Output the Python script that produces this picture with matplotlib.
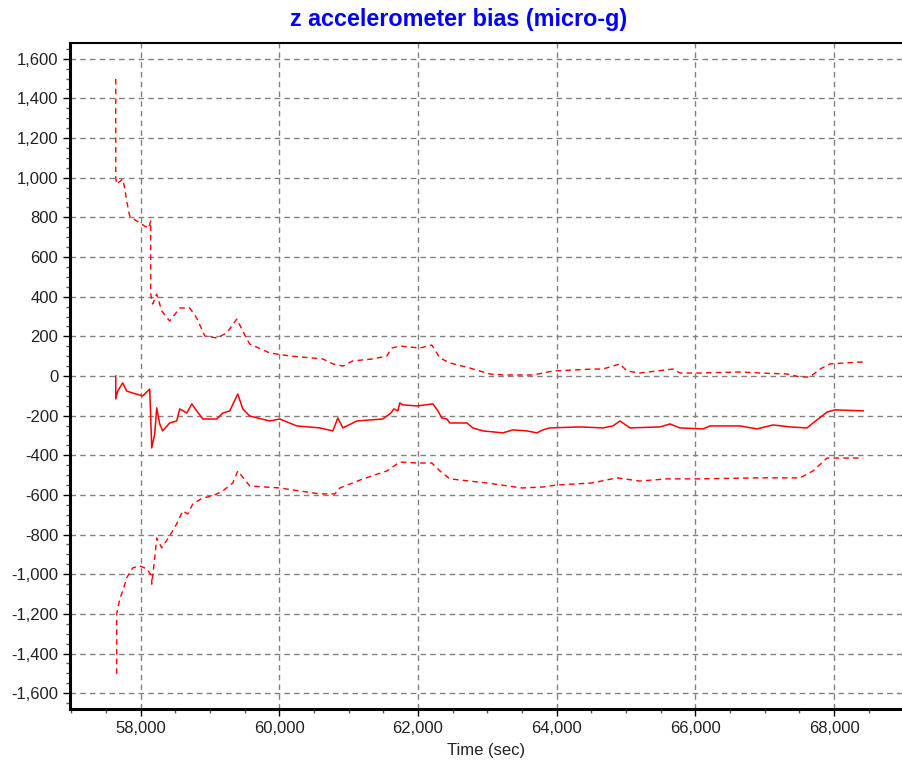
import matplotlib
matplotlib.use("Agg")
import matplotlib.pyplot as plt
from matplotlib.ticker import MultipleLocator, FuncFormatter

# bias estimate (solid)
t_bias = [57640, 57640, 57668, 57740, 57798, 57885, 58029, 58101, 58130, 58159,
          58202, 58231, 58274, 58317, 58418, 58519, 58563, 58664, 58736, 58808,
          58895, 59097, 59183, 59284, 59400, 59472, 59573, 59861, 60006, 60251,
          60583, 60771, 60843, 60915, 61117, 61492, 61608, 61651, 61708, 61737,
          61781, 61983, 62213, 62286, 62343, 62416, 62459, 62705, 62790, 62935,
          63224, 63368, 63570, 63714, 63800, 63901, 64334, 64667, 64811, 64912,
          65056, 65489, 65634, 65778, 66110, 66211, 66644, 66889, 67120, 67365,
          67610, 67697, 67899, 68014, 68419]
bias = [0, -116, -76, -35, -76, -86, -101, -76, -66, -363,
        -292, -161, -242, -277, -237, -227, -166, -187, -141, -176,
        -217, -217, -187, -176, -91, -166, -202, -227, -217, -252,
        -262, -277, -212, -262, -227, -217, -187, -166, -176, -136,
        -146, -151, -141, -176, -212, -217, -237, -237, -262, -277,
        -287, -272, -277, -287, -272, -262, -257, -262, -252, -227,
        -262, -257, -242, -262, -267, -252, -252, -267, -247, -257,
        -262, -237, -182, -171, -176]

# upper bound (dashed)
t_upper = [57640, 57640, 57654, 57740, 57769, 57798, 57841, 57942, 58058, 58115,
           58144, 58144, 58173, 58231, 58303, 58418, 58563, 58707, 58808, 58924,
           59097, 59241, 59385, 59472, 59530, 59573, 59861, 60150, 60626, 60771,
           60915, 61059, 61348, 61550, 61622, 61737, 62026, 62199, 62314, 62458,
           62747, 63036, 63224, 63657, 63801, 63945, 64522, 64667, 64912, 65013,
           65201, 65677, 65778, 66066, 66644, 66932, 67322, 67509, 67654, 67798,
           67942, 68419]
upper = [1498, 998, 968, 993, 948, 882, 807, 782, 756, 746,
         782, 413, 363, 413, 328, 277, 343, 343, 292, 202,
         192, 217, 287, 227, 187, 161, 116, 101, 86, 61,
         50, 76, 86, 101, 141, 151, 141, 156, 91, 66,
         40, 10, 5, 5, 15, 25, 35, 35, 61, 25,
         15, 35, 15, 15, 20, 15, 10, -5, -5, 35,
         61, 71]

# lower bound (dashed)
t_lower = [57654, 57654, 57697, 57740, 57798, 57885, 57986, 58087, 58159, 58159,
           58202, 58231, 58303, 58418, 58519, 58606, 58678, 58750, 58895, 59039,
           59183, 59327, 59400, 59573, 60006, 60583, 60799, 60872, 61200, 61550,
           61737, 61983, 62199, 62314, 62458, 63000, 63500, 63800, 64000, 64500,
           64868, 65200, 65590, 66066, 66889, 67509, 67697, 67899, 68043, 68419]
lower = [-1503, -1200, -1125, -1085, -1018, -968, -958, -973, -1008, -1050,
         -918, -817, -867, -807, -746, -681, -696, -646, -615, -605,
         -580, -540, -480, -555, -565, -595, -595, -565, -520, -479,
         -434, -439, -439, -479, -519, -540, -565, -560, -550, -540,
         -514, -530, -519, -519, -514, -514, -479, -414, -414, -414]

fig = plt.figure(figsize=(9.02, 7.67), dpi=100)
ax = fig.add_axes([0.0776, 0.0756, 0.9224, 0.8684])
plt.rcParams['font.family'] = ['Liberation Sans', 'DejaVu Sans']

ax.plot(t_upper, upper, color='red', lw=1.0, dashes=(4, 3))
ax.plot(t_bias, bias, color='red', lw=1.1)
ax.plot(t_lower, lower, color='red', lw=1.0, dashes=(4, 3))

ax.set_xlim(56980, 68980)
ax.set_ylim(-1680, 1680)
ax.xaxis.set_major_locator(MultipleLocator(2000))
ax.xaxis.set_minor_locator(MultipleLocator(500))
ax.yaxis.set_major_locator(MultipleLocator(200))
ax.yaxis.set_minor_locator(MultipleLocator(50))
fmt = FuncFormatter(lambda v, p: "{:,.0f}".format(v))
ax.xaxis.set_major_formatter(fmt)
ax.yaxis.set_major_formatter(fmt)

ax.grid(True, which='major', color='#808080', linestyle=(0, (4, 3)), lw=1.0)
for lab in ax.get_xticklabels() + ax.get_yticklabels():
    lab.set_family('Liberation Sans')
ax.tick_params(axis='both', which='major', labelsize=12, length=5, width=1,
               colors='black', labelcolor='#222222')
ax.tick_params(axis='both', which='minor', length=3, width=1, colors='#555555')

ax.spines['right'].set_visible(False)
ax.spines['left'].set_linewidth(2.2)
ax.spines['bottom'].set_linewidth(2.2)
ax.spines['top'].set_linewidth(1.5)

ax.set_xlabel("Time (sec)", fontsize=12, family='Liberation Sans', labelpad=5,
              color='#222222')
fig.text(0.508, 0.975, "z accelerometer bias (micro-g)", ha='center', va='center',
         fontsize=16.8, fontweight='bold', color='#0000ff', family='Liberation Sans')

fig.savefig("out.png", dpi=100)
